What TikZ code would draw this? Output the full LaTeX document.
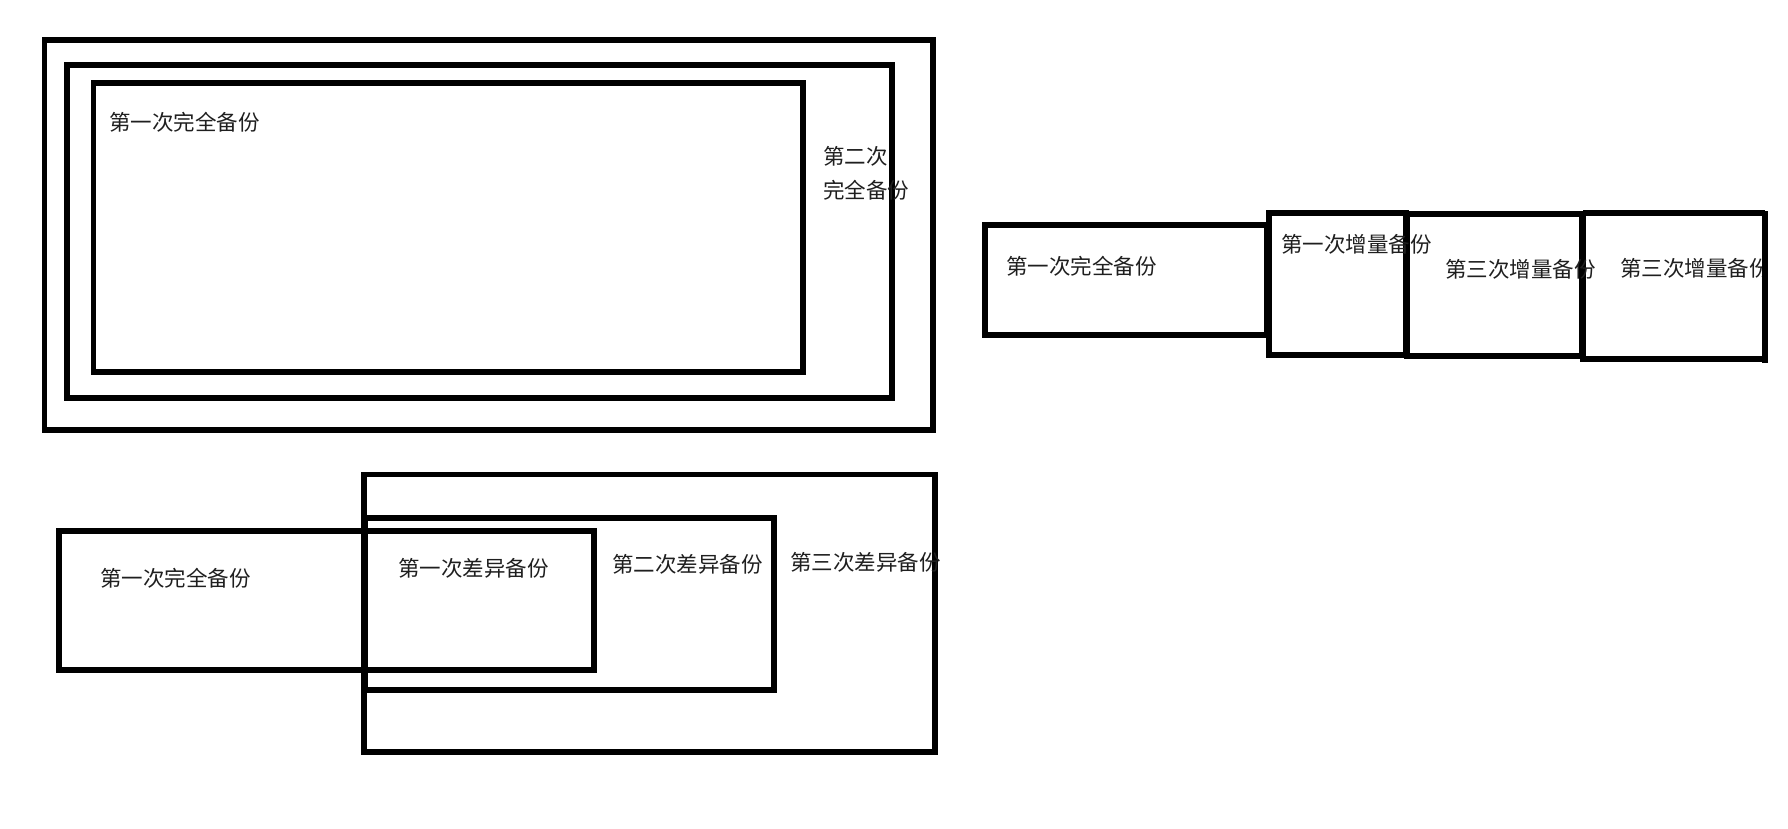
\documentclass[tikz,border=0pt]{standalone}
\usepackage{fontspec}
\newfontfamily\cjk{Noto Sans CJK SC}
\begin{document}
\begin{tikzpicture}[x=1pt,y=-1pt,
  box/.style={draw=black,line width=5.2pt},
  lbl/.style={anchor=west,inner sep=0pt,font=\cjk\fontsize{21.5}{25}\selectfont,text=black!88}]
\useasboundingbox (0,0) rectangle (1788,828);
% top-left nested full backups
\draw[box] (44.5,40) rectangle (933,430);
\draw[box] (67,65) rectangle (892,398);
\draw[box] (93.5,83) rectangle (803,372);
\node[lbl] (f1) at (109,122) {第一次完全备份};
\node[lbl] (f2a) at (823,156) {第二次};
\node[lbl] (f2b) at (823,190) {完全备份};
% right: incremental backups
\draw[box] (985,225) rectangle (1267,335);
\draw[box] (1269,213) rectangle (1406,355);
\draw[box] (1407,214) rectangle (1582,356);
\draw[box] (1583,213) -- (1765,213);
\draw[box] (1583,213) -- (1583,359) -- (1765,359);
\node[lbl] (i0) at (1006,266) {第一次完全备份};
\node[lbl] (i1) at (1281,244) {第一次增量备份};
\node[lbl] (i2) at (1445,269) {第三次增量备份};
\node[lbl] (i3) at (1620,268) {第三次增量备份};
\fill[white] (1765,200) rectangle (1788,380);
\draw[box] (1765,211) -- (1765,363);
% bottom: differential backups
\draw[box] (59,531) rectangle (594,670);
\draw[box] (364,474.5) rectangle (935,752);
\draw[box] (365,518) rectangle (774,690);
\node[lbl] (d0) at (100,578) {第一次完全备份};
\node[lbl] (d1) at (398,568) {第一次差异备份};
\node[lbl] (d2) at (612,564) {第二次差异备份};
\node[lbl] (d3) at (790,562) {第三次差异备份};
\end{tikzpicture}
\end{document}
